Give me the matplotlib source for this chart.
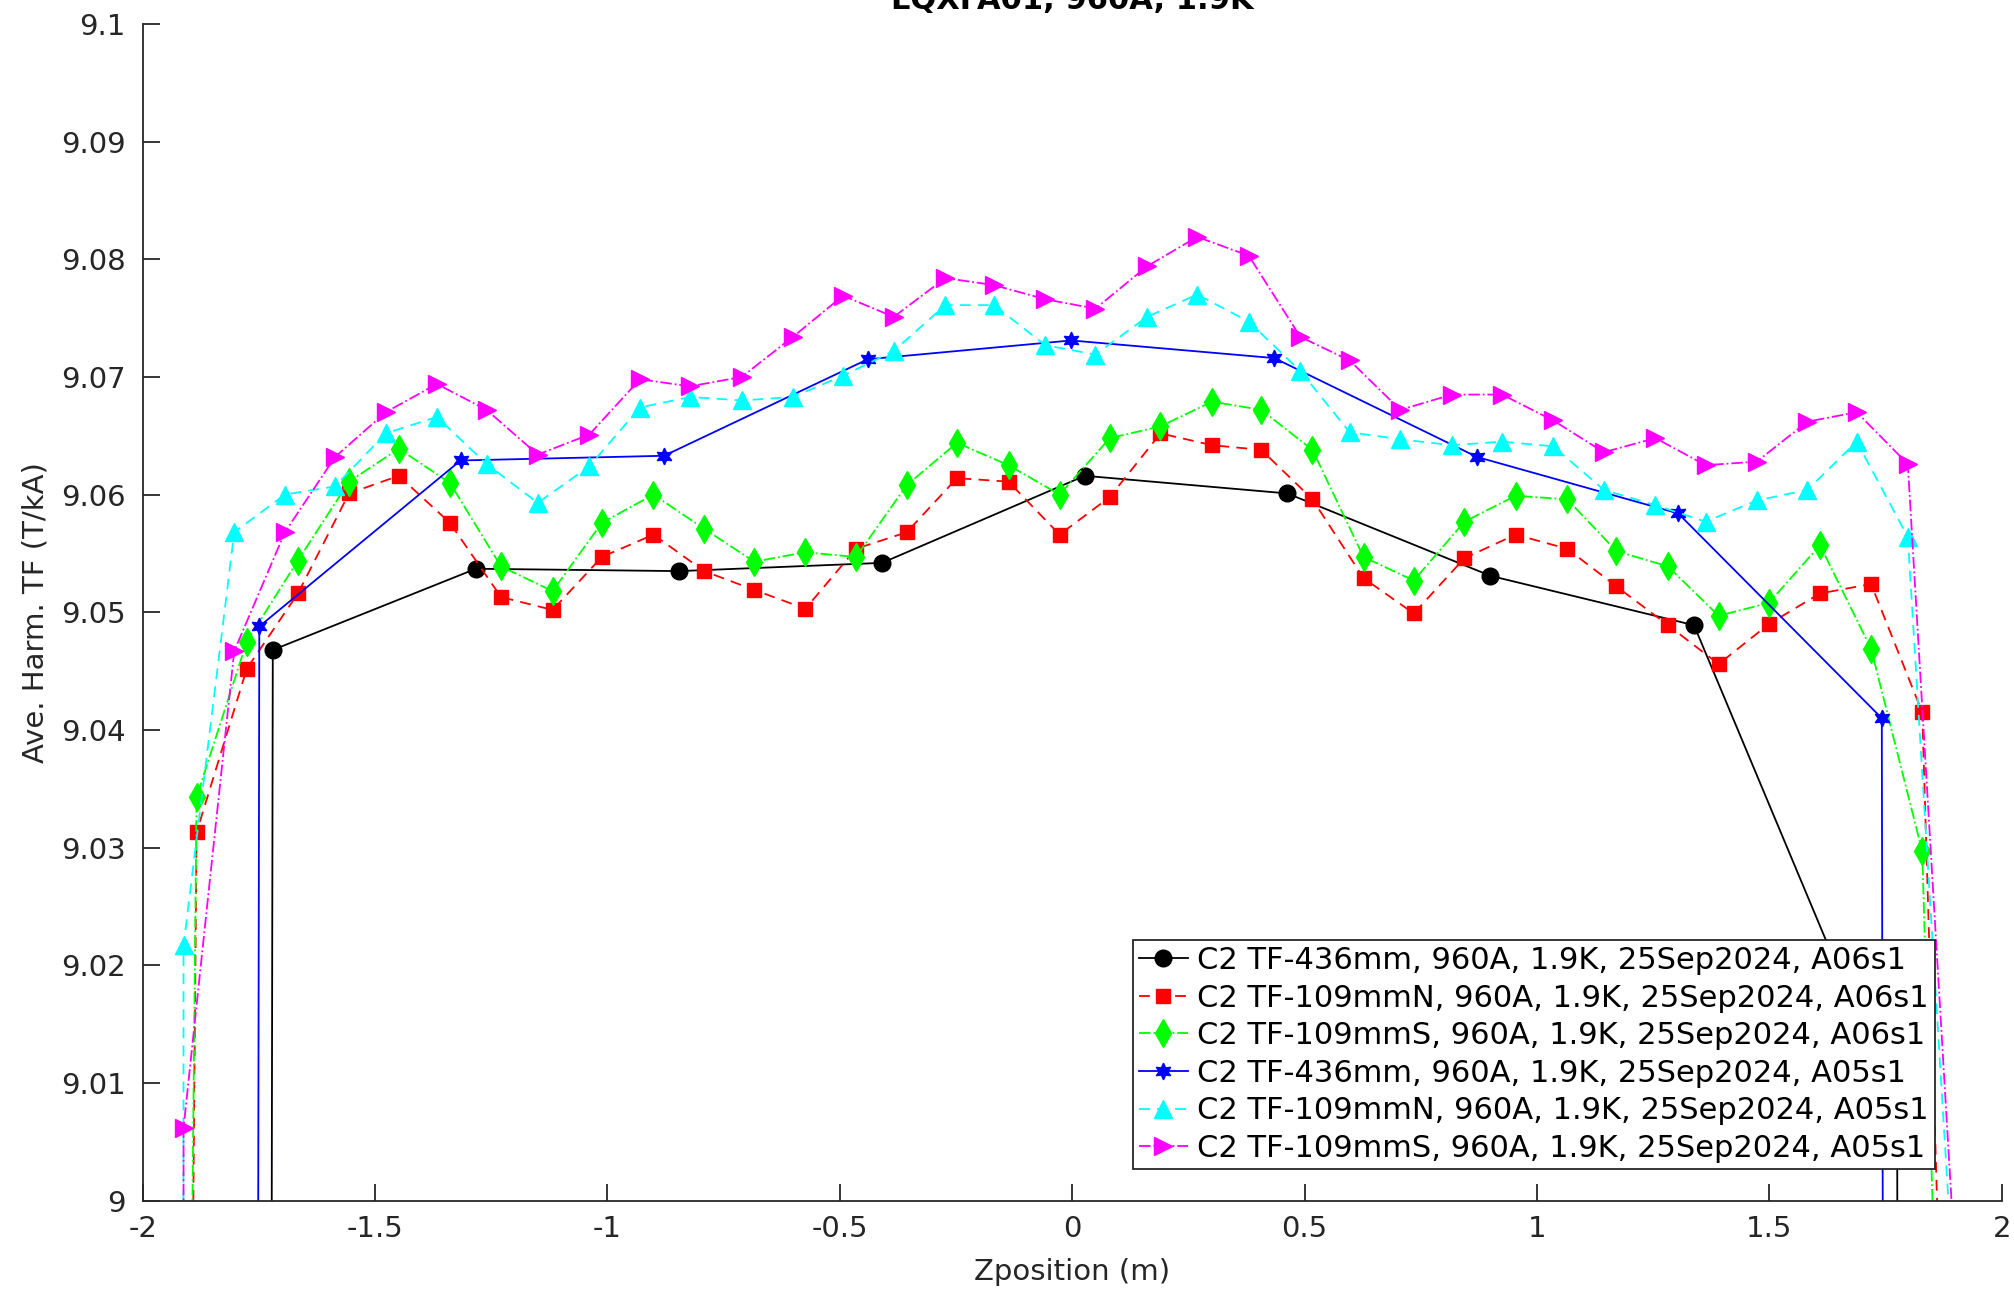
import matplotlib
matplotlib.use("Agg")
import matplotlib.pyplot as plt

# 436 mm coil, A06s1 (first/last entries are the off-magnet readings)
z436_a06 = [-2.158, -1.720, -1.283, -0.846, -0.409, 0.027, 0.463, 0.900, 1.338, 1.775, 2.210]
tf436_a06 = [0.0, 9.0468, 9.0537, 9.0535, 9.0542, 9.0616, 9.0601, 9.0531, 9.0489, 9.0077, 0.0]

# 436 mm coil, A05s1
z436_a05 = [-2.185, -1.749, -1.316, -0.878, -0.440, -0.002, 0.435, 0.871, 1.304, 1.742, 2.180]
tf436_a05 = [0.0, 9.0488, 9.0629, 9.0633, 9.0715, 9.0731, 9.0716, 9.0632, 9.0584, 9.0410, 0.0]

# 109 mm coils, A06s1
z109_a06 = [-1.993, -1.884, -1.776, -1.666, -1.556, -1.449, -1.339, -1.229, -1.118, -1.012,
            -0.901, -0.792, -0.684, -0.574, -0.465, -0.356, -0.248, -0.137, -0.027, 0.081,
            0.190, 0.301, 0.407, 0.517, 0.627, 0.735, 0.844, 0.954, 1.065, 1.171,
            1.282, 1.391, 1.499, 1.609, 1.719, 1.829, 1.938]
tf109n_a06 = [8.540, 9.0313, 9.0452, 9.0516, 9.0601, 9.0616, 9.0576, 9.0513, 9.0502, 9.0547,
              9.0566, 9.0535, 9.0519, 9.0503, 9.0554, 9.0568, 9.0614, 9.0611, 9.0566, 9.0598,
              9.0652, 9.0642, 9.0638, 9.0596, 9.0529, 9.0499, 9.0546, 9.0566, 9.0554, 9.0522,
              9.0489, 9.0456, 9.0490, 9.0516, 9.0524, 9.0415, 8.900]
tf109s_a06 = [8.610, 9.0343, 9.0475, 9.0544, 9.0611, 9.0639, 9.0610, 9.0539, 9.0518, 9.0576,
              9.0600, 9.0571, 9.0543, 9.0551, 9.0547, 9.0608, 9.0644, 9.0625, 9.0600, 9.0648,
              9.0658, 9.0679, 9.0672, 9.0638, 9.0547, 9.0527, 9.0577, 9.0599, 9.0596, 9.0552,
              9.0539, 9.0497, 9.0508, 9.0557, 9.0469, 9.0297, 8.883]

# 109 mm coils, A05s1
z109_a05 = [-2.021, -1.912, -1.803, -1.694, -1.586, -1.477, -1.367, -1.260, -1.150, -1.039,
            -0.930, -0.822, -0.711, -0.601, -0.493, -0.384, -0.273, -0.168, -0.058, 0.050,
            0.161, 0.269, 0.380, 0.491, 0.597, 0.706, 0.817, 0.925, 1.035, 1.144,
            1.255, 1.363, 1.473, 1.582, 1.688, 1.798, 1.907]
tf109n_a05 = [0.0, 9.0217, 9.0568, 9.0600, 9.0607, 9.0652, 9.0666, 9.0626, 9.0593, 9.0624,
              9.0674, 9.0683, 9.0680, 9.0683, 9.0701, 9.0722, 9.0761, 9.0761, 9.0727, 9.0719,
              9.0751, 9.0770, 9.0747, 9.0705, 9.0653, 9.0647, 9.0642, 9.0645, 9.0641, 9.0604,
              9.0591, 9.0577, 9.0595, 9.0604, 9.0645, 9.0564, 8.986]
tf109s_a05 = [0.0, 9.0062, 9.0467, 9.0568, 9.0632, 9.0670, 9.0694, 9.0672, 9.0634, 9.0651,
              9.0698, 9.0692, 9.0700, 9.0734, 9.0769, 9.0751, 9.0784, 9.0778, 9.0766, 9.0758,
              9.0794, 9.0819, 9.0803, 9.0734, 9.0714, 9.0672, 9.0685, 9.0685, 9.0663, 9.0636,
              9.0648, 9.0625, 9.0628, 9.0662, 9.0670, 9.0626, 8.990]

labels = [
    "C2 TF-436mm, 960A, 1.9K, 25Sep2024, A06s1",
    "C2 TF-109mmN, 960A, 1.9K, 25Sep2024, A06s1",
    "C2 TF-109mmS, 960A, 1.9K, 25Sep2024, A06s1",
    "C2 TF-436mm, 960A, 1.9K, 25Sep2024, A05s1",
    "C2 TF-109mmN, 960A, 1.9K, 25Sep2024, A05s1",
    "C2 TF-109mmS, 960A, 1.9K, 25Sep2024, A05s1",
]
xticks = [-2, -1.5, -1, -0.5, 0, 0.5, 1, 1.5, 2]
xticklabels = ["-2", "-1.5", "-1", "-0.5", "0", "0.5", "1", "1.5", "2"]
yticks = [9.0, 9.01, 9.02, 9.03, 9.04, 9.05, 9.06, 9.07, 9.08, 9.09, 9.1]
yticklabels = ["9", "9.01", "9.02", "9.03", "9.04", "9.05", "9.06", "9.07", "9.08", "9.09", "9.1"]

FS = 21
AXC = "#262626"
plt.rcParams["font.family"] = ["DejaVu Sans"]

fig = plt.figure(figsize=(20.15, 12.9), dpi=100)
ax = fig.add_axes([0.0708, 0.0692, 0.9226, 0.9123])

lw = 1.3
ax.plot(z436_a06, tf436_a06, "-", color="k", lw=lw, marker="o", ms=12,
        mfc="k", mec="k", label=labels[0])
ax.plot(z109_a06, tf109n_a06, "--", color="#ff0000", lw=lw, marker="s", ms=9.5,
        mfc="#ff0000", mec="#ff0000", label=labels[1], dashes=(6, 4))
ax.plot(z109_a06, tf109s_a06, "-.", color="#00ff00", lw=lw, marker="d", ms=14,
        mfc="#00ff00", mec="#00ff00", label=labels[2])
ax.plot(z436_a05, tf436_a05, "-", color="#0000ff", lw=lw, marker=(6, 1, 0), ms=12,
        mfc="#0000ff", mec="#0000ff", label=labels[3])
ax.plot(z109_a05, tf109n_a05, "--", color="#00ffff", lw=lw, marker="^", ms=13,
        mfc="#00ffff", mec="#00ffff", label=labels[4], dashes=(6, 4))
ax.plot(z109_a05, tf109s_a05, "-.", color="#ff00ff", lw=lw, marker=">", ms=13,
        mfc="#ff00ff", mec="#ff00ff", label=labels[5])

ax.set_xlim(-2, 2)
ax.set_ylim(9.0, 9.1)
ax.set_xticks(xticks)
ax.set_xticklabels(xticklabels)
ax.set_yticks(yticks)
ax.set_yticklabels(yticklabels)

for side in ("top", "right"):
    ax.spines[side].set_visible(False)
for side in ("left", "bottom"):
    ax.spines[side].set_color(AXC)
    ax.spines[side].set_linewidth(1.3)

ax.tick_params(axis="both", direction="in", length=12, width=1.3, color=AXC,
               labelcolor=AXC, labelsize=FS)
ax.tick_params(axis="y", pad=12)
ax.tick_params(axis="x", pad=10)

ax.set_xlabel("Zposition (m)", fontsize=FS, color=AXC, labelpad=11)
ax.set_ylabel("Ave. Harm. TF (T/kA)", fontsize=FS, color=AXC, labelpad=8.5)

# title sits mostly above the figure edge, as in the original export
ax.text(0.5, 1.0 + 15 / 1177, "LQXFA01, 960A, 1.9K", transform=ax.transAxes,
        ha="center", va="baseline", fontsize=22, fontweight="bold", color="k")

leg = ax.legend(loc="lower right", bbox_to_anchor=(0.964, 0.027), fontsize=22,
                frameon=True, fancybox=False, edgecolor=AXC, framealpha=1,
                borderpad=0.2, labelspacing=0.28, handlelength=1.6,
                handletextpad=0.3, borderaxespad=0, numpoints=1)
leg.get_frame().set_linewidth(1.3)

fig.savefig("out.png", dpi=100, facecolor="white")
